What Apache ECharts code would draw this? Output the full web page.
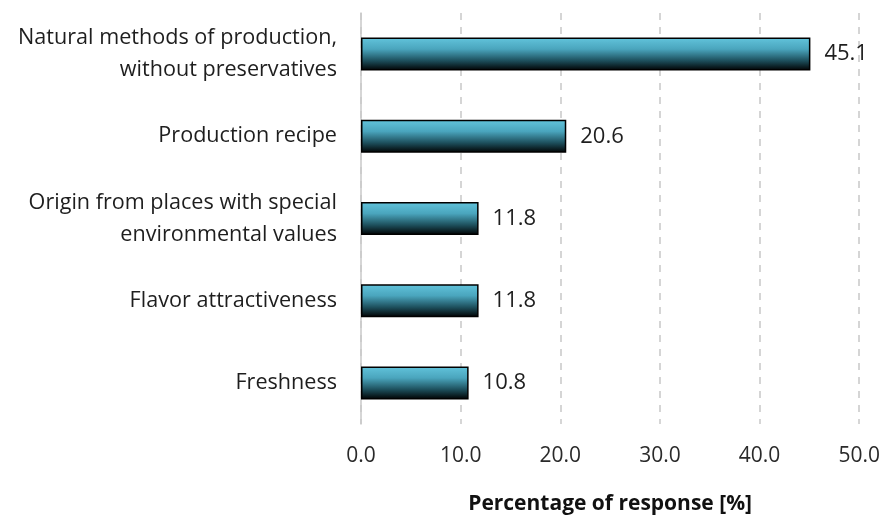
<!DOCTYPE html>
<html>
<head>
<meta charset="utf-8">
<script src="https://cdn.jsdelivr.net/npm/echarts@6/dist/echarts.min.js"></script>
<style>
  html, body { margin: 0; padding: 0; background: #ffffff; }
  #chart { width: 883px; height: 520px; }
</style>
</head>
<body>
<div id="chart"></div>
<script>
// Reasons for choosing the product, share of responses
const categories = [
  'Natural methods of production,\nwithout preservatives',
  'Production recipe',
  'Origin from places with special\nenvironmental values',
  'Flavor attractiveness',
  'Freshness'
];
const responseShare = [45.1, 20.6, 11.8, 11.8, 10.8];
const axisTicks = [0, 10, 20, 30, 40, 50];

const FONT = '"Open Sans"';

const chart = echarts.init(document.getElementById('chart'), null, { renderer: 'canvas' });

chart.setOption({
  backgroundColor: '#ffffff',
  animation: false,
  grid: { left: 361, right: 22, top: 13, bottom: 86 },
  xAxis: {
    type: 'value',
    min: axisTicks[0],
    max: axisTicks[axisTicks.length - 1],
    interval: axisTicks[1] - axisTicks[0],
    axisLine: { show: false },
    axisTick: { show: false },
    axisLabel: {
      color: '#2a2a2a',
      fontFamily: FONT,
      fontSize: 21,
      margin: 22,
      formatter: v => v.toFixed(1)
    },
    splitLine: {
      show: true,
      lineStyle: { color: '#c8c8c8', width: 1.5, type: [7, 7] }
    },
    name: 'Percentage of response [%]',
    nameLocation: 'middle',
    nameGap: 70,
    nameTextStyle: {
      color: '#111111',
      fontFamily: FONT,
      fontSize: 21,
      fontWeight: 'bold'
    }
  },
  yAxis: {
    type: 'category',
    inverse: true,
    data: categories,
    axisLine: { show: true, lineStyle: { color: '#c8c8c8', width: 1.5 } },
    axisTick: { show: false },
    axisLabel: {
      color: '#1e1e1e',
      fontFamily: FONT,
      fontSize: 21.6,
      lineHeight: 32,
      margin: 24,
      align: 'right'
    }
  },
  series: [{
    type: 'bar',
    data: responseShare,
    barWidth: 33,
    itemStyle: {
      borderColor: '#000000',
      borderWidth: 1.5,
      color: new echarts.graphic.LinearGradient(0, 0, 0, 1, [
        { offset: 0, color: '#62c4dc' },
        { offset: 0.35, color: '#4aa5bd' },
        { offset: 0.7, color: '#1d4f5c' },
        { offset: 1, color: '#000000' }
      ])
    },
    label: {
      show: true,
      position: 'right',
      distance: 14,
      color: '#1e1e1e',
      fontFamily: FONT,
      fontSize: 22,
      formatter: p => p.value.toFixed(1)
    }
  }]
});
</script>
</body>
</html>
